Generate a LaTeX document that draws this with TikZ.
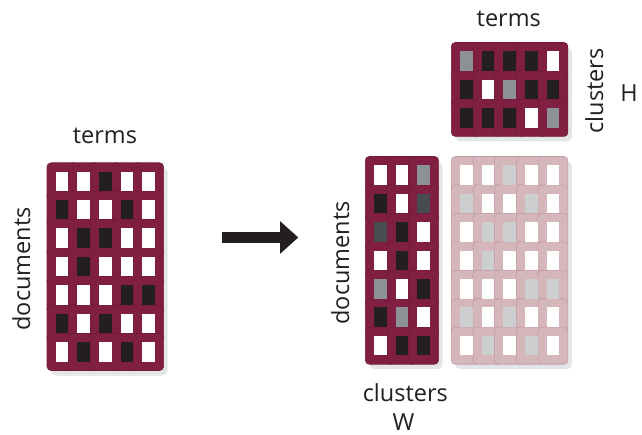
\documentclass[tikz,border=0pt]{standalone}
\usepackage{fontspec}
\setmainfont{Open Sans}
\usetikzlibrary{arrows.meta}
\definecolor{mred}{HTML}{801F42}
\definecolor{mredline}{HTML}{741A3B}
\definecolor{mpink}{HTML}{D5B6BB}
\definecolor{mpinkline}{HTML}{C29CA4}
\definecolor{cW}{HTML}{FFFFFF}
\definecolor{cB}{HTML}{231F20}
\definecolor{cG}{HTML}{8C9196}
\definecolor{cD}{HTML}{474D4F}
\definecolor{cL}{HTML}{CDCED0}
\definecolor{shadowgray}{HTML}{E4E5E6}
\definecolor{txt}{HTML}{231F20}
% #1 x of first cell centre, #2 y of first cell centre, #3 columns, #4 rows,
% #5 frame fill, #6 frame line, #7 list of rows
\newcommand\drawmatrix[7]{%
  \fill[shadowgray, rounded corners=5pt]
    ({#1-15+4},{#2-18.5+5}) rectangle ({#1+(#3-1)*21.65+15+4},{#2+(#4-1)*28.45+18.5+5});
  \foreach \row [count=\r] in {#7} {
    \foreach \k [count=\c] in \row {
      \path[draw=#6, fill=#5, line width=0.6pt, rounded corners=4pt]
        ({#1+(\c-1)*21.65-15},{#2+(\r-1)*28.45-18.5}) rectangle ++(30,37);
    }
  }
  \foreach \row [count=\r] in {#7} {
    \foreach \k [count=\c] in \row {
      \fill[\k] ({#1+(\c-1)*21.65-6.35},{#2+(\r-1)*28.45-9.75}) rectangle ++(12.7,19.5);
    }
  }
}
\tikzset{lab/.style={font=\fontsize{23.5}{28}\selectfont, text=txt, inner sep=0pt}}
\begin{document}
\begin{tikzpicture}[x=1pt, y=-1pt]
\useasboundingbox (0,0) rectangle (642,435);
% left matrix
\drawmatrix{62}{181.3}{5}{7}{mred}{mredline}{{cW,cW,cB,cW,cW},{cB,cW,cW,cB,cW},{cW,cB,cB,cW,cW},{cW,cB,cW,cW,cW},{cW,cW,cW,cB,cB},{cB,cW,cB,cW,cW},{cW,cB,cW,cB,cW}}
% W
\drawmatrix{380.3}{175}{3}{7}{mred}{mredline}{{cW,cW,cG},{cB,cW,cD},{cD,cB,cW},{cW,cB,cW},{cG,cW,cB},{cB,cG,cW},{cW,cB,cB}}
% product
\drawmatrix{466.3}{175}{5}{7}{mpink}{mpinkline}{{cW,cW,cL,cW,cW},{cL,cW,cW,cL,cW},{cW,cL,cL,cW,cW},{cW,cL,cW,cW,cW},{cW,cW,cW,cL,cL},{cL,cW,cL,cW,cW},{cW,cL,cW,cL,cW}}
% H
\drawmatrix{466.3}{61}{5}{3}{mred}{mredline}{{cG,cB,cB,cB,cW},{cB,cW,cG,cB,cB},{cB,cB,cB,cW,cG}}
% arrow
\coordinate (atail) at (221.7,237.5);
\coordinate (ahead) at (298.3,237.5);
\draw[cB, line width=10.4pt, -{Triangle[length=18.3pt,width=31.6pt]}] (atail) -- (ahead);
% labels
\node[lab, anchor=base] (termsL) at (105,143.3) {terms};
\node[lab, anchor=base, rotate=90] (docsL) at (30,269) {documents};
\node[lab, anchor=base, rotate=90] (docsW) at (349,263) {documents};
\node[lab, anchor=base] (clustersW) at (405.3,401.7) {clusters};
\node[lab, anchor=base] (Wlab) at (403.5,430) {W};
\node[lab, anchor=base] (termsH) at (508.8,26.7) {terms};
\node[lab, anchor=base, rotate=90] (clustersH) at (603,91) {clusters};
\node[lab, anchor=base] (Hlab) at (629,101.7) {H};
\end{tikzpicture}
\end{document}
